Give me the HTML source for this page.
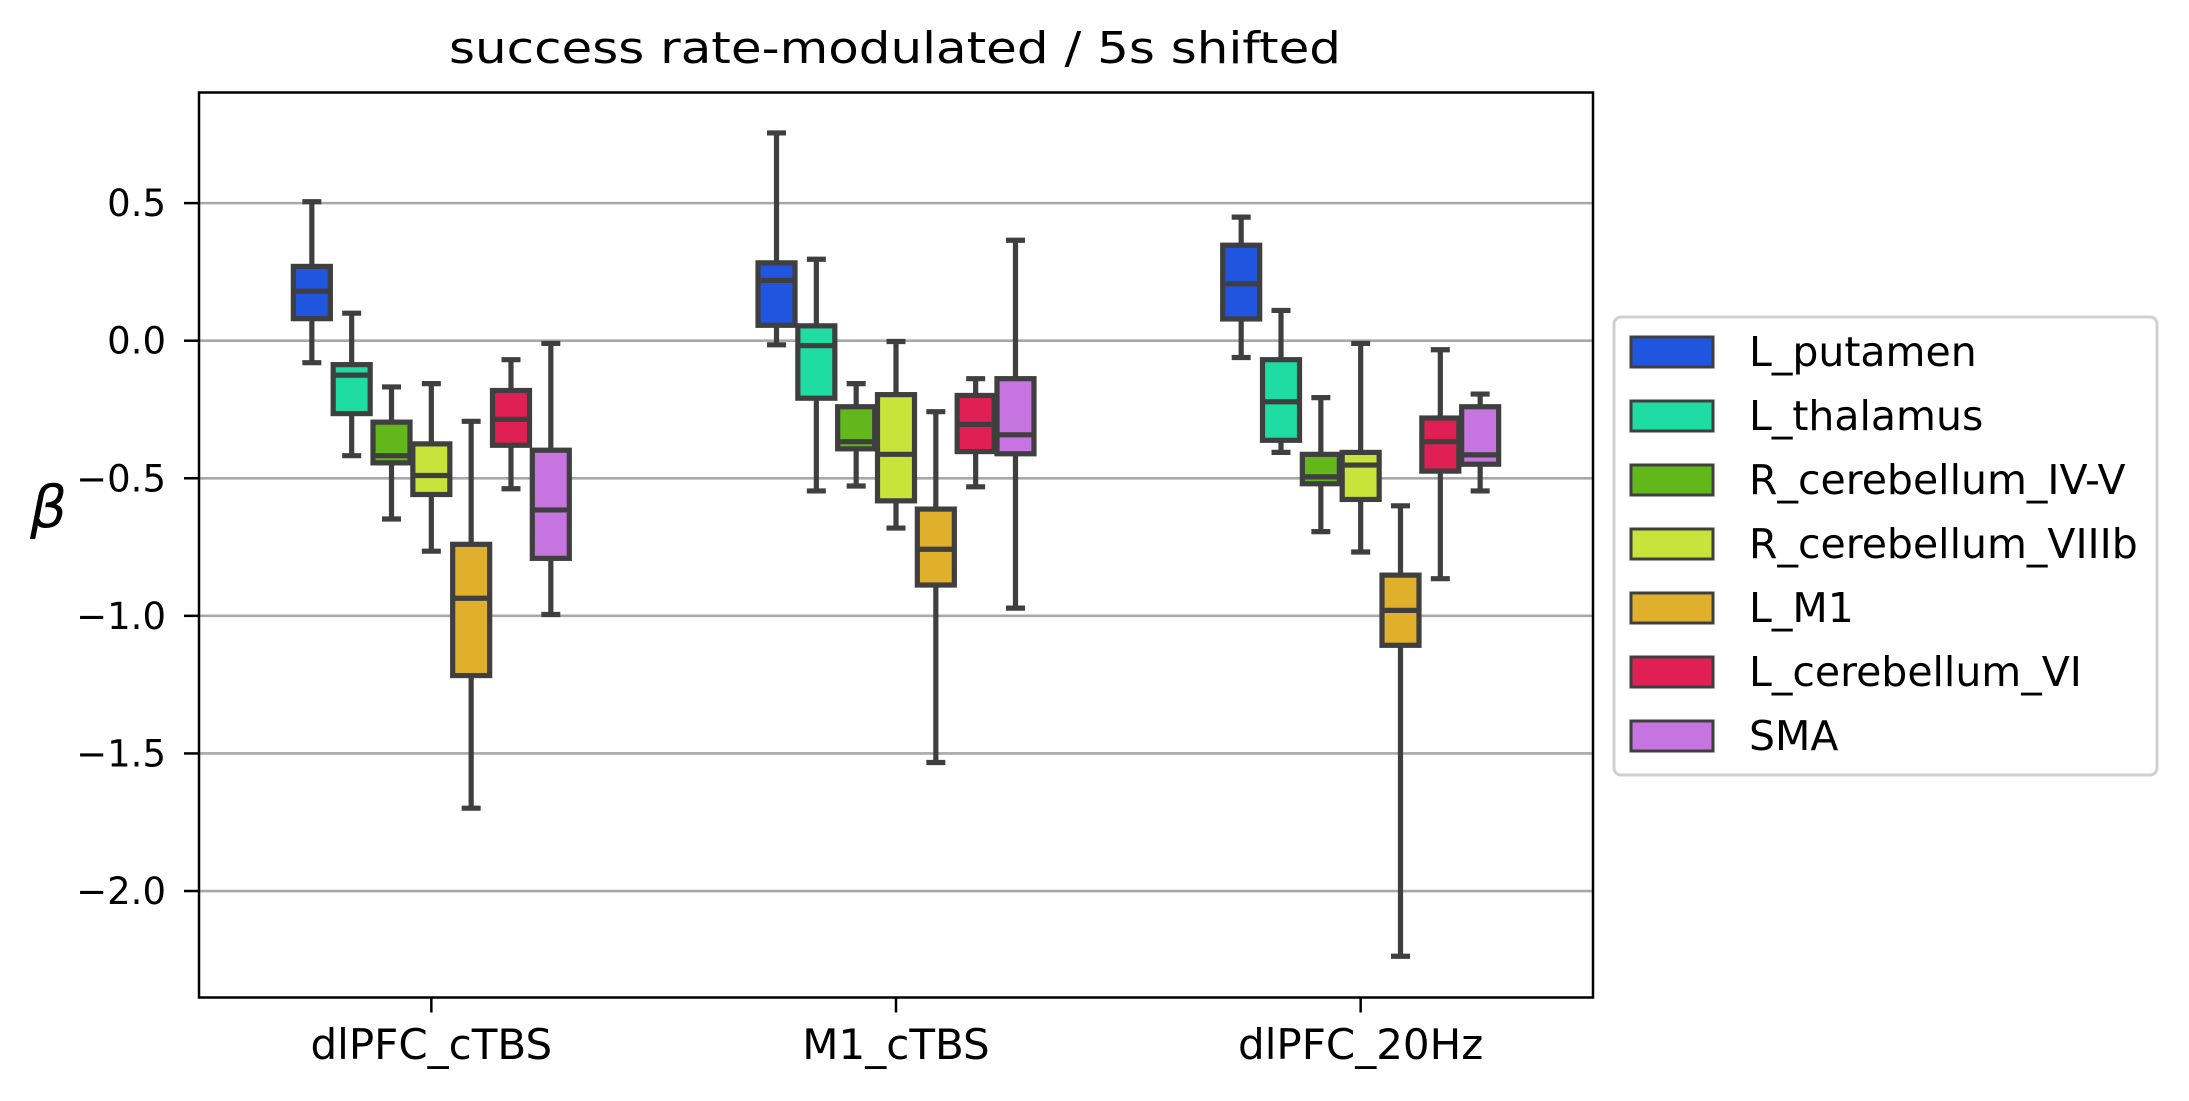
<!DOCTYPE html>
<html><head><meta charset="utf-8"><style>
html,body{margin:0;padding:0;background:#fff;}
svg{display:block;font-family:"DejaVu Sans","Liberation Sans",sans-serif;}
</style></head><body>
<svg id="chart" width="2189" height="1101" viewBox="0 0 2189 1101" xmlns="http://www.w3.org/2000/svg">
<rect width="2189" height="1101" fill="#fff"/>
<text x="895" y="63" font-size="44" text-anchor="middle" textLength="892" lengthAdjust="spacingAndGlyphs">success rate-modulated / 5s shifted</text>
<g id="grid"></g>
<g id="boxes"></g>
<rect x="199" y="92.5" width="1394" height="905" fill="none" stroke="#000" stroke-width="2.5"/>
<g id="axes"></g>
<text x="30" y="527" font-size="58" font-style="italic">β</text>
<g id="legend"></g>
</svg>
<script>
const categories = ["dlPFC_cTBS","M1_cTBS","dlPFC_20Hz"];
const regions = ["L_putamen","L_thalamus","R_cerebellum_IV-V","R_cerebellum_VIIIb","L_M1","L_cerebellum_VI","SMA"];
const colors = ["#2055e0","#1fdca2","#62b81a","#c8e43a","#e0b02c","#e01f55","#c674e0"];
const yTicks = [0.5,0.0,-0.5,-1.0,-1.5,-2.0];
const yTickLabels = ["0.5","0.0","\u22120.5","\u22121.0","\u22121.5","\u22122.0"];
// [whiskerLow, Q1, median, Q3, whiskerHigh] per category, per region
const statsDlpfcCtbs = [
 [-0.08,0.08,0.18,0.27,0.505],
 [-0.418,-0.265,-0.125,-0.087,0.10],
 [-0.648,-0.444,-0.418,-0.296,-0.168],
 [-0.765,-0.559,-0.49,-0.375,-0.156],
 [-1.699,-1.217,-0.936,-0.74,-0.293],
 [-0.538,-0.38,-0.286,-0.181,-0.069],
 [-0.995,-0.791,-0.615,-0.398,-0.01]];
const statsM1Ctbs = [
 [-0.015,0.056,0.219,0.283,0.755],
 [-0.546,-0.209,-0.018,0.054,0.296],
 [-0.528,-0.393,-0.367,-0.24,-0.156],
 [-0.681,-0.582,-0.413,-0.196,-0.003],
 [-1.533,-0.888,-0.758,-0.612,-0.258],
 [-0.531,-0.403,-0.304,-0.199,-0.138],
 [-0.972,-0.411,-0.342,-0.138,0.365]];
const statsDlpfc20Hz = [
 [-0.061,0.079,0.207,0.347,0.449],
 [-0.406,-0.362,-0.222,-0.069,0.11],
 [-0.694,-0.52,-0.495,-0.413,-0.207],
 [-0.768,-0.577,-0.452,-0.406,-0.01],
 [-2.237,-1.107,-0.98,-0.852,-0.6],
 [-0.865,-0.474,-0.367,-0.281,-0.033],
 [-0.546,-0.449,-0.415,-0.24,-0.194]];
const allStats = [statsDlpfcCtbs, statsM1Ctbs, statsDlpfc20Hz];

const NS="http://www.w3.org/2000/svg";
const plotLeft=199,plotRight=1593,plotTop=92.5,plotBottom=997.5;
const yMin=-2.387,yMax=0.902;
function yScale(v){return plotBottom-(v-yMin)/(yMax-yMin)*(plotBottom-plotTop);}
const catStep=(plotRight-plotLeft)/categories.length;
function xCat(i){return plotLeft+catStep*(i+0.5);}
const dodge=catStep*0.6/regions.length;
function xBox(i,j){return xCat(i)+(j-(regions.length-1)/2)*dodge;}
function mk(tag,attrs,parent){const e=document.createElementNS(NS,tag);for(const k in attrs)e.setAttribute(k,attrs[k]);parent.appendChild(e);return e;}

const gridG=document.getElementById('grid'),axesG=document.getElementById('axes'),boxesG=document.getElementById('boxes'),legendG=document.getElementById('legend');
yTicks.forEach((t,k)=>{
 const y=yScale(t);
 const g=mk('line',{x1:plotLeft,x2:plotRight,y1:y,y2:y,stroke:'#a8a8a8','stroke-width':2.6},gridG);
 
 
 const tk=mk('line',{x1:plotLeft-15,x2:plotLeft,y1:y,y2:y,stroke:'#000','stroke-width':2.5},axesG);
 
 
 const tx=mk('text',{x:plotLeft-33,y:y+13,'font-size':37,'text-anchor':'end'},axesG);
 tx.textContent=yTickLabels[k];
 
 
});
categories.forEach((c,i)=>{
 const x=xCat(i);
 const tk=mk('line',{x1:x,x2:x,y1:plotBottom,y2:plotBottom+15,stroke:'#000','stroke-width':2.5},axesG);
 
 
 const tx=mk('text',{x:x,y:1059,'font-size':42,'text-anchor':'middle'},axesG);
 tx.textContent=c;
 
 
});
const bw=37,cw=19,lc='#3f3f3f',lw=5.2;
allStats.forEach((cat,i)=>{
 cat.forEach((s,j)=>{
  const x=xBox(i,j);
  const g=mk('g',{},boxesG);
  
  
  mk('line',{x1:x,x2:x,y1:yScale(s[0]),y2:yScale(s[1]),stroke:lc,'stroke-width':lw},g);
  mk('line',{x1:x,x2:x,y1:yScale(s[3]),y2:yScale(s[4]),stroke:lc,'stroke-width':lw},g);
  mk('line',{x1:x-cw/2,x2:x+cw/2,y1:yScale(s[0]),y2:yScale(s[0]),stroke:lc,'stroke-width':lw},g);
  mk('line',{x1:x-cw/2,x2:x+cw/2,y1:yScale(s[4]),y2:yScale(s[4]),stroke:lc,'stroke-width':lw},g);
  mk('rect',{x:x-bw/2,y:yScale(s[3]),width:bw,height:yScale(s[1])-yScale(s[3]),fill:colors[j],stroke:lc,'stroke-width':lw},g);
  mk('line',{x1:x-bw/2,x2:x+bw/2,y1:yScale(s[2]),y2:yScale(s[2]),stroke:lc,'stroke-width':lw},g);
 });
});
const lb=mk('rect',{x:1614,y:317,width:543,height:458,rx:7,fill:'#fff',stroke:'#d0d0d0','stroke-width':3},legendG);


regions.forEach((r,j)=>{
 const cy=352+j*64;
 const g=mk('g',{},legendG);
 
 
 mk('rect',{x:1631,y:cy-15,width:82,height:30,fill:colors[j],stroke:lc,'stroke-width':3},g);
 const t=mk('text',{x:1749,y:cy+14,'font-size':41},g);
 t.textContent=r;
});
</script>
</body></html>
